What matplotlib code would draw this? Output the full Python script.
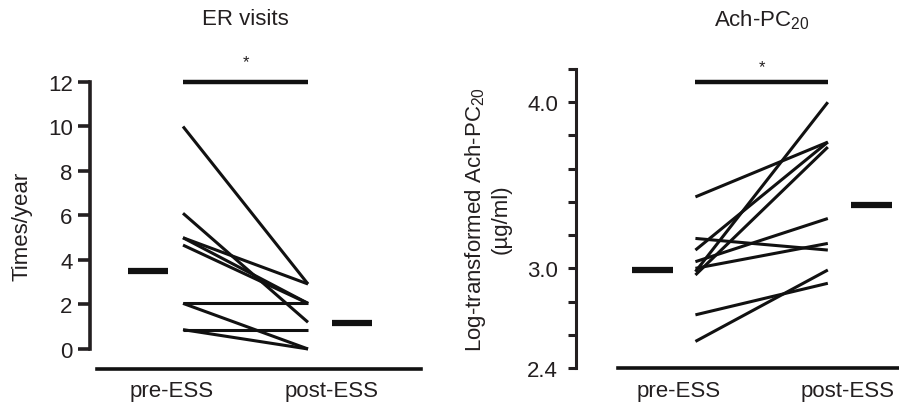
import matplotlib
matplotlib.use('Agg')
import matplotlib.pyplot as plt

plt.rcParams['font.family'] = ['Liberation Sans', 'DejaVu Sans']
plt.rcParams['font.size'] = 16

# ER visits (times/year), paired pre -> post
er_pre = [10.0, 6.1, 5.0, 5.0, 4.67, 2.05, 2.05, 0.87, 0.87]
er_post = [2.92, 1.2, 2.92, 2.05, 2.05, 2.05, 0.0, 0.87, 0.0]
er_means = [3.5, 1.17]

# Ach-PC20, log-transformed, paired pre -> post
ach_pre = [3.43, 3.18, 3.11, 3.04, 3.0, 2.98, 2.96, 2.72, 2.56]
ach_post = [3.76, 3.11, 3.76, 3.30, 3.15, 4.0, 3.73, 2.91, 2.99]
ach_means = [2.99, 3.38]

groups = ['pre-ESS', 'post-ESS']
ink = '#231f20'

fig = plt.figure(figsize=(8.99, 4.06), dpi=100)
W, H = 899, 406


def panel(left, right, top, bottom):
    return fig.add_axes([left / W, 1 - bottom / H, (right - left) / W, (bottom - top) / H])


def style(ax, ybounds, ticklen, tickw, pad):
    for s in ['top', 'right', 'bottom']:
        ax.spines[s].set_visible(False)
    ax.spines['left'].set_linewidth(tickw)
    ax.spines['left'].set_color(ink)
    ax.spines['left'].set_bounds(*ybounds)
    ax.tick_params(axis='y', length=ticklen, width=tickw, color=ink, pad=pad, labelcolor=ink)
    ax.tick_params(axis='x', length=0, labelcolor=ink)


# ---- ER visits ----
ax1 = panel(90, 421, 83, 370)
ax1.set_xlim(0.256, 2.904)
ax1.set_ylim(-0.9, 12)
style(ax1, (0, 12), 8.5, 2.6, 4)
ax1.set_yticks(range(0, 13, 2))
for a, b in zip(er_pre, er_post):
    ax1.plot([1, 2], [a, b], color='#111', lw=2.2, solid_capstyle='butt')
ax1.plot([0.72 - 0.16, 0.72 + 0.16], [er_means[0]] * 2, color='#111', lw=4.5, solid_capstyle='butt')
ax1.plot([2.35 - 0.16, 2.35 + 0.16], [er_means[1]] * 2, color='#111', lw=4.5, solid_capstyle='butt')
ax1.plot([1, 2], [12, 12], color='#111', lw=3.2, clip_on=False, solid_capstyle='butt')
ax1.text(1.5, 12.6, '*', ha='center', va='bottom', fontsize=12, color=ink)
ax1.plot([0.31, 2.9], [-0.9, -0.9], color='#111', lw=2.6, clip_on=False)
ax1.set_xticks([0.91, 2.19], groups)
ax1.tick_params(axis='x', pad=8)
ax1.set_ylabel('Times/year', color=ink)
ax1.yaxis.set_label_coords(-0.175, 0.5)
ax1.text(1.5, 1.22, 'ER visits', transform=ax1.get_xaxis_transform(),
         ha='center', va='center', color=ink)

# ---- Ach-PC20 ----
ax2 = panel(576, 898, 70, 369)
ax2.set_xlim(0.098, 2.53)
ax2.set_ylim(2.4, 4.2)
style(ax2, (2.4, 4.2), 6, 2.2, 7)
ax2.set_yticks([2.4 + 0.2 * i for i in range(10)])
ax2.set_yticklabels(['2.4', '', '', '3.0', '', '', '', '', '4.0', ''])
for a, b in zip(ach_pre, ach_post):
    ax2.plot([1, 2], [a, b], color='#111', lw=2.2, solid_capstyle='butt')
ax2.plot([0.678 - 0.155, 0.678 + 0.155], [ach_means[0]] * 2, color='#111', lw=4.5, solid_capstyle='butt')
ax2.plot([2.33 - 0.155, 2.33 + 0.155], [ach_means[1]] * 2, color='#111', lw=4.5, solid_capstyle='butt')
ax2.plot([1, 2], [4.12, 4.12], color='#111', lw=3.2, clip_on=False, solid_capstyle='butt')
ax2.text(1.5, 4.17, '*', ha='center', va='bottom', fontsize=12, color=ink)
ax2.plot([0.417, 2.53], [2.4, 2.4], color='#111', lw=2.6, clip_on=False)
ax2.set_xticks([0.871, 2.15], groups)
ax2.tick_params(axis='x', pad=9)
ax2.set_ylabel('Log-transformed Ach-PC$_{\\mathregular{20}}$\n(\u00b5g/ml)', color=ink, linespacing=1.2)
ax2.yaxis.set_label_coords(-0.199, 0.5)
ax2.text(1.5, 1.167, 'Ach-PC$_{\\mathregular{20}}$', transform=ax2.get_xaxis_transform(),
         ha='center', va='center', color=ink)

fig.savefig('out.png', dpi=100)
